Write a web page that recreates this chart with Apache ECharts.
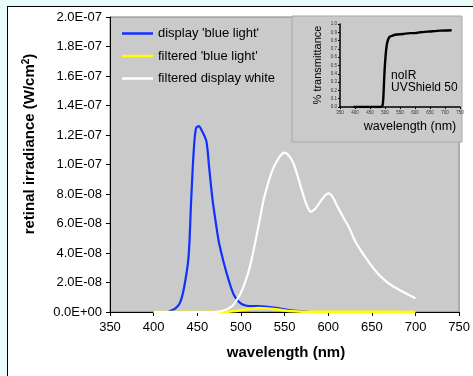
<!DOCTYPE html>
<html>
<head>
<meta charset="utf-8">
<script src="https://cdn.jsdelivr.net/npm/echarts@6/dist/echarts.min.js"></script>
<style>
  html, body { margin: 0; padding: 0; background: #e9fbfb; overflow: hidden; width: 473px; height: 376px; }
  #frame { position: absolute; left: 7px; top: 6px; width: 466px; height: 370px;
           background: #fff; border-top: 1px solid #000; border-left: 1px solid #000; }
  #main { position: absolute; left: 0; top: 0; width: 473px; height: 376px; }
</style>
</head>
<body>
<div id="frame"></div>
<div id="main"></div>
<script>
// wavelength (nm) / retinal irradiance (W/cm2)
const blueWl = [400, 415, 420, 425, 430, 435, 440, 443, 446, 448.5, 451.5, 456, 460.5, 463.5, 467.5, 473, 475, 480.5, 486.5, 492, 497.5, 503.5, 510, 520, 530, 540, 550, 560, 570, 580]
const blueVal = [0, 0, 0.1e-8, 0.25e-8, 0.6e-8, 1.7e-8, 3.75e-8, 7.6e-8, 11.0e-8, 12.45e-8, 12.6e-8, 12.2e-8, 11.55e-8, 9.85e-8, 7.6e-8, 5.35e-8, 4.66e-8, 3.3e-8, 2.06e-8, 1.15e-8, 0.7e-8, 0.47e-8, 0.4e-8, 0.4e-8, 0.35e-8, 0.28e-8, 0.18e-8, 0.1e-8, 0.05e-8, 0]

const yellowWl = [400, 480, 490, 500, 510, 520, 530, 540, 550, 560, 570, 600, 650, 700]
const yellowVal = [0, 0, 0.05e-8, 0.12e-8, 0.2e-8, 0.26e-8, 0.24e-8, 0.18e-8, 0.1e-8, 0.05e-8, 0.02e-8, 0.01e-8, 0.01e-8, 0]

const whiteWl = [400, 470, 480, 490, 495, 500, 507, 512, 517, 522, 526, 531, 536, 541, 545, 550, 555, 560, 565, 570, 575, 580, 585, 590, 595, 600, 605, 611, 619, 625, 630, 637, 644, 650, 657, 664, 672, 686, 700]
const whiteVal = [0, 0, 0.1e-8, 0.4e-8, 0.8e-8, 1.3e-8, 2.4e-8, 3.5e-8, 4.9e-8, 6.4e-8, 7.6e-8, 8.7e-8, 9.6e-8, 10.2e-8, 10.6e-8, 10.8e-8, 10.6e-8, 10.1e-8, 9.2e-8, 8.2e-8, 7.3e-8, 6.8e-8, 7.0e-8, 7.4e-8, 7.8e-8, 8.05e-8, 7.8e-8, 7.1e-8, 6.24e-8, 5.6e-8, 4.9e-8, 4.2e-8, 3.6e-8, 3.1e-8, 2.6e-8, 2.2e-8, 1.83e-8, 1.35e-8, 0.93e-8]

// inset: noIR UVShield 50 transmittance
const filterWl = [395, 485, 492, 495, 498, 502, 506, 511, 517, 525, 533, 561, 583, 600, 617, 650, 683, 722]
const filterT = [0, 0, 0.02, 0.15, 0.4, 0.62, 0.75, 0.82, 0.85, 0.86, 0.87, 0.88, 0.89, 0.89, 0.9, 0.91, 0.92, 0.925]

const seriesNames = ["display 'blue light'", "filtered 'blue light'", 'filtered display white']

const font = 'Liberation Sans, Arial, sans-serif'
const pair = (xs, ys) => xs.map((x, i) => [x, ys[i]])

const sci = (v) => {
  if (v === 0) return '0.0E+00'
  const s = Number(v).toExponential(1).split('e')
  const e = parseInt(s[1], 10)
  return s[0] + 'E' + (e < 0 ? '-' : '+') + String(Math.abs(e)).padStart(2, '0')
}

const chart = echarts.init(document.getElementById('main'))
chart.setOption({
  animation: false,
  textStyle: { fontFamily: font },
  grid: [
    { left: 110, top: 17, width: 352, height: 295, show: true,
      backgroundColor: '#cacaca', borderColor: '#808080', borderWidth: 1 },
    { left: 340, top: 24, width: 120, height: 83 },
  ],
  legend: {
    orient: 'vertical', left: 117, top: 22,
    icon: 'rect', itemWidth: 31, itemHeight: 2.5, itemGap: 9.5,
    data: seriesNames,
    textStyle: { fontFamily: font, fontSize: 13, color: '#000' },
  },
  graphic: [
    { type: 'rect', z: 1, shape: { x: 292, y: 16, width: 170, height: 126 },
      style: { fill: '#cacaca', stroke: '#a8a8a8', lineWidth: 1 } },
    { type: 'text', x: 30, y: 144, rotation: Math.PI / 2,
      style: { text: 'retinal irradiance (W/cm{sup|2})', align: 'center', verticalAlign: 'middle',
        font: 'bold 15px ' + font, fill: '#000',
        rich: { sup: { font: 'bold 10px ' + font, verticalAlign: 'top', padding: [0, 0, 8, 0] } } } },
    { type: 'text', x: 286, y: 353,
      style: { text: 'wavelength (nm)', align: 'center', verticalAlign: 'middle',
        font: 'bold 15px ' + font, fill: '#000' } },
    { type: 'text', z: 10, x: 318, y: 65, rotation: Math.PI / 2,
      style: { text: '% transmittance', align: 'center', verticalAlign: 'middle',
        font: '11px ' + font, fill: '#000' } },
    { type: 'text', z: 10, x: 410, y: 127,
      style: { text: 'wavelength (nm)', align: 'center', verticalAlign: 'middle',
        font: '12.5px ' + font, fill: '#000' } },
    { type: 'text', z: 10, x: 391, y: 70,
      style: { text: 'noIR\nUVShield 50', align: 'left', verticalAlign: 'top', lineHeight: 12,
        font: '12px ' + font, fill: '#000' } },
  ],
  xAxis: [
    { type: 'value', gridIndex: 0, min: 350, max: 750, interval: 50,
      axisLine: { onZero: false, lineStyle: { color: '#000', width: 1 } },
      axisTick: { show: true, length: 4, lineStyle: { color: '#000' } },
      axisLabel: { color: '#000', fontSize: 13, margin: 9 },
      splitLine: { show: false } },
    { type: 'value', gridIndex: 1, min: 350, max: 750, interval: 50,
      axisLine: { onZero: false, lineStyle: { color: '#000', width: 1.5 } },
      axisTick: { show: true, length: 2, lineStyle: { color: '#000' } },
      axisLabel: { color: '#333', fontSize: 4.5, margin: 3 },
      splitLine: { show: false }, z: 10 },
  ],
  yAxis: [
    { type: 'value', gridIndex: 0, min: 0, max: 2e-7, interval: 2e-8,
      axisLine: { show: true, lineStyle: { color: '#000', width: 1 } },
      axisTick: { show: true, length: 4, lineStyle: { color: '#000' } },
      axisLabel: { color: '#000', fontSize: 13, margin: 8, formatter: sci },
      splitLine: { show: false } },
    { type: 'value', gridIndex: 1, min: 0, max: 1, interval: 0.1,
      axisLine: { show: true, lineStyle: { color: '#000', width: 1.5 } },
      axisTick: { show: true, length: 2, lineStyle: { color: '#000' } },
      axisLabel: { color: '#333', fontSize: 4.5, margin: 3, formatter: (v) => v.toFixed(1) },
      splitLine: { show: false }, z: 10 },
  ],
  series: [
    { name: seriesNames[0], type: 'line', xAxisIndex: 0, yAxisIndex: 0, data: pair(blueWl, blueVal),
      smooth: 0.3, symbol: 'none', color: '#1030ff', lineStyle: { width: 2.2 } },
    { name: seriesNames[1], type: 'line', xAxisIndex: 0, yAxisIndex: 0, data: pair(yellowWl, yellowVal),
      smooth: 0.3, symbol: 'none', color: '#ffff00', lineStyle: { width: 2.6 } },
    { name: seriesNames[2], type: 'line', xAxisIndex: 0, yAxisIndex: 0, data: pair(whiteWl, whiteVal),
      smooth: 0.3, symbol: 'none', color: '#ffffff', lineStyle: { width: 2.2 } },
    { name: 'noIR UVShield 50', type: 'line', xAxisIndex: 1, yAxisIndex: 1, data: pair(filterWl, filterT),
      smooth: 0.2, symbol: 'none', color: '#000', lineStyle: { width: 2.4 }, z: 10 },
  ],
})
</script>
</body>
</html>
